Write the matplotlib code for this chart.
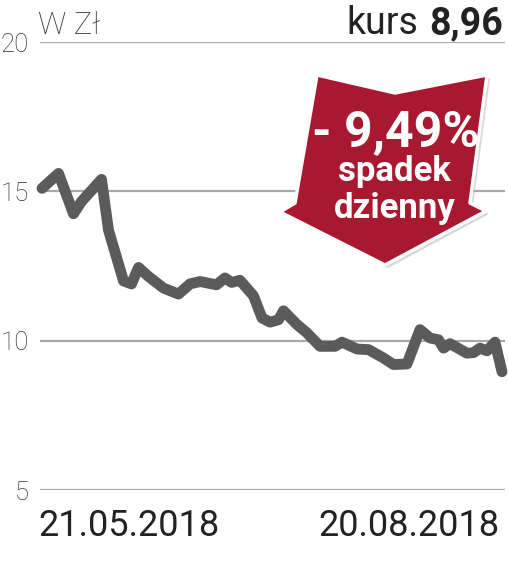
import matplotlib
matplotlib.use("Agg")
import matplotlib.pyplot as plt
from matplotlib.patches import Polygon
from matplotlib.transforms import Affine2D, ScaledTranslation

# ---- data ----
days = [0, 3.3, 6.3, 7.9, 11.9, 13.3, 16.3, 17.9, 19.3, 21.3, 24.3, 27.3, 29.6,
        31.6, 34.9, 36.6, 37.9, 39.6, 42.3, 44.0, 45.6, 47.3, 48.3, 51.0, 53.0,
        55.6, 58.6, 60.0, 63.0, 65.3, 68.3, 70.3, 73.0, 75.6, 77.6, 79.3, 80.3,
        81.6, 85.0, 86.3, 87.6, 89.0, 90.6, 92.0]
prices = [15.1, 15.6, 14.25, 14.66, 15.4, 13.7, 12.0, 11.9, 12.45, 12.15, 11.76,
          11.56, 11.9, 11.98, 11.87, 12.1, 11.95, 12.02, 11.5, 10.76, 10.62,
          10.7, 11.0, 10.54, 10.26, 9.81, 9.81, 9.95, 9.72, 9.7, 9.42, 9.2, 9.22,
          10.37, 10.09, 10.03, 9.75, 9.9, 9.58, 9.6, 9.75, 9.66, 9.95, 8.96]
y_ticks = [5, 10, 15, 20]
x_tick_pos = [0, 91]
x_tick_labels = ["21.05.2018", "20.08.2018"]
unit_label = "W Zł"
price_label = "kurs"
last_price = "8,96"
change_label = "- 9,49%"
change_lines = ["spadek", "dzienny"]

W, H = 508, 565
fig = plt.figure(figsize=(W / 100, H / 100), dpi=100)
fig.patch.set_facecolor("white")

# pixel transform (x from left, y from top)
px = Affine2D().scale(1 / W, -1 / H).translate(0, 1) + fig.transFigure

ax_left, ax_right, ax_top, ax_bot = 40, 505, 42, 490
ax = fig.add_axes([ax_left / W, 1 - ax_bot / H, (ax_right - ax_left) / W,
                   (ax_bot - ax_top) / H])
ax.set_xlim(-0.4, 92.6)
ax.set_ylim(5, 20)
for s in ax.spines.values():
    s.set_visible(False)

for t in y_ticks:
    ax.axhline(t, color="#a9a9a9", lw=1.6, zorder=1)

ax.set_yticks(y_ticks)
ax.set_yticklabels([str(t) for t in y_ticks], fontsize=18.5, color="#333333",
                   family="Roboto", fontweight="light")
ax.tick_params(axis="y", length=0, pad=8)

ax.set_xticks(x_tick_pos)
ax.set_xticklabels(x_tick_labels, fontsize=26, color="#222222", family="Roboto")
ax.tick_params(axis="x", length=0, pad=13)
labs = ax.get_xticklabels()
labs[0].set_ha("left")
labs[1].set_ha("right")
labs[0].set_transform(labs[0].get_transform() +
                      ScaledTranslation(-0.04, 0, fig.dpi_scale_trans))
labs[1].set_transform(labs[1].get_transform() +
                      ScaledTranslation(0.03, 0, fig.dpi_scale_trans))

ax.plot(days, prices, color="#5b5b5b", lw=7.8, solid_joinstyle="round",
        solid_capstyle="round", zorder=3, clip_on=False)

# header texts
fig.text(38 / W, 1 - 26 / H, unit_label, fontsize=22.5, color="#333333",
         family="Roboto", fontweight="light", va="center", ha="left")
fig.text(418 / W, 1 - 24 / H, price_label, fontsize=27, color="#222222",
         family="Roboto", va="center", ha="right")
fig.text(503 / W, 1 - 24 / H, last_price, fontsize=27, color="#222222",
         family="Roboto", fontweight="bold", va="center", ha="right")

# arrow badge
verts = [(317, 75), (395, 93), (487, 75), (470, 203), (486, 211), (385, 265),
         (280, 212), (295, 203)]
shadow = Polygon([(x + 3, y + 3) for x, y in verts], closed=True,
                 transform=px, facecolor="#b0b0b0", edgecolor="none",
                 alpha=0.5, zorder=5)
fig.add_artist(shadow)
arrow = Polygon(verts, closed=True, transform=px, facecolor="#a8182f",
                edgecolor="white", lw=2.5, joinstyle="round", zorder=6)
fig.add_artist(arrow)

fig.text(396 / W, 1 - 147 / H, change_label, fontsize=36, color="white",
         family="Roboto", fontweight="bold", ha="center", va="baseline",
         zorder=7)
fig.text(394 / W, 1 - 181 / H, change_lines[0], fontsize=25, color="white",
         family="Roboto", fontweight="bold", ha="center", va="baseline",
         zorder=7)
fig.text(395 / W, 1 - 218 / H, change_lines[1], fontsize=25, color="white",
         family="Roboto", fontweight="bold", ha="center", va="baseline",
         zorder=7)

fig.savefig("out.png", dpi=100, facecolor="white")
